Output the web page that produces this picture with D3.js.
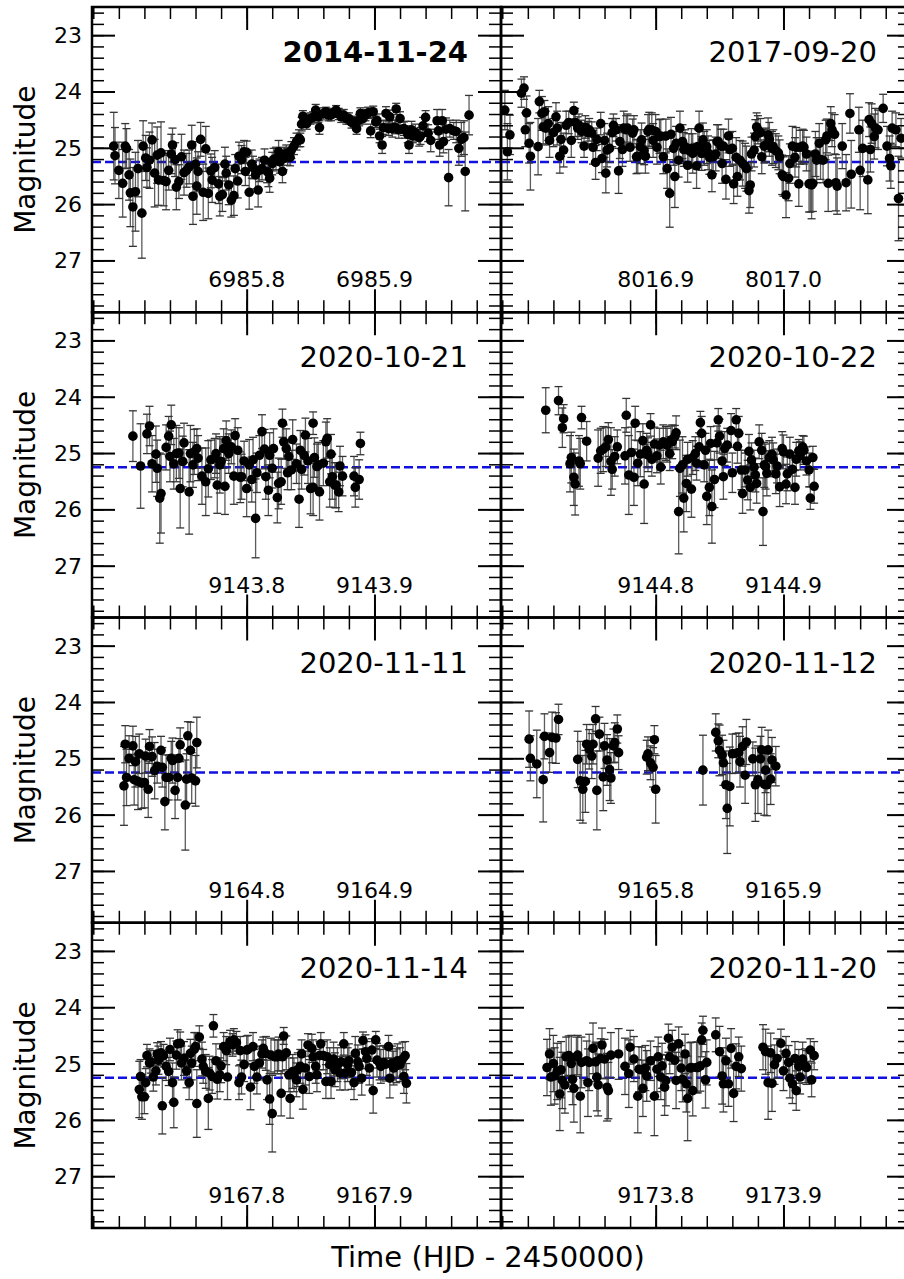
<!DOCTYPE html>
<html lang="en">
<head>
<meta charset="UTF-8">
<title>Light curves by night</title>
<script src="https://d3js.org/d3.v7.min.js"></script>
<style>
  body { margin: 0; background: #fff; }
  svg { display: block; font-family: "DejaVu Sans", sans-serif; }
</style>
</head>
<body>
<svg id="chart" width="904" height="1279"></svg>
<script>
// one panel per night, row by row
const nights = ["2014-11-24", "2017-09-20", "2020-10-21", "2020-10-22",
                "2020-11-11", "2020-11-12", "2020-11-14", "2020-11-20"];
// first labelled time tick of each panel (HJD - 2450000)
const tickStarts = [6985.8, 8016.9, 9143.8, 9144.8, 9164.8, 9165.8, 9167.8, 9173.8];
const yTicks = [23, 24, 25, 26, 27];
const meanMag = 25.25;

// [time, magnitude, error]
const lc20141124 = [[6985.696,24.97,0.6],[6985.697,25.14,0.5],[6985.700,25.40,0.5],[6985.703,25.63,0.6],[6985.705,24.97,0.4],[6985.706,25.01,0.35],[6985.708,25.48,0.45],[6985.709,25.80,0.6],[6985.711,26.05,0.7],[6985.713,25.78,0.7],[6985.715,25.37,0.5],[6985.718,26.16,0.8],[6985.719,24.97,0.45],[6985.721,25.18,0.4],[6985.722,25.35,0.35],[6985.724,25.22,0.5],[6985.726,24.86,0.3],[6985.728,25.45,0.6],[6985.730,25.13,0.5],[6985.731,25.57,0.45],[6985.733,25.09,0.55],[6985.735,25.58,0.45],[6985.737,25.60,0.5],[6985.739,25.40,0.35],[6985.741,25.11,0.35],[6985.742,24.95,0.3],[6985.744,25.21,0.3],[6985.745,25.70,0.4],[6985.747,25.60,0.3],[6985.749,25.16,0.4],[6985.751,25.44,0.4],[6985.753,25.40,0.3],[6985.755,25.34,0.3],[6985.757,24.95,0.35],[6985.758,25.86,0.5],[6985.760,25.29,0.4],[6985.761,25.68,0.5],[6985.762,25.42,0.35],[6985.764,24.85,0.3],[6985.766,25.79,0.5],[6985.768,25.02,0.4],[6985.770,25.81,0.45],[6985.772,25.41,0.3],[6985.773,25.57,0.4],[6985.775,25.35,0.3],[6985.778,25.64,0.35],[6985.779,25.86,0.35],[6985.781,25.83,0.3],[6985.783,25.29,0.3],[6985.784,25.45,0.3],[6985.786,25.66,0.35],[6985.788,25.93,0.3],[6985.790,25.85,0.35],[6985.791,25.37,0.25],[6985.793,25.59,0.3],[6985.794,25.15,0.25],[6985.796,25.21,0.25],[6985.798,25.07,0.2],[6985.799,25.42,0.25],[6985.800,25.08,0.2],[6985.802,25.79,0.3],[6985.804,25.29,0.25],[6985.805,25.35,0.2],[6985.807,25.48,0.25],[6985.809,25.75,0.3],[6985.810,25.40,0.2],[6985.812,25.37,0.2],[6985.814,25.22,0.2],[6985.816,25.42,0.2],[6985.817,25.44,0.25],[6985.818,25.54,0.25],[6985.820,25.28,0.2],[6985.821,25.21,0.2],[6985.823,25.19,0.2],[6985.825,25.07,0.2],[6985.826,25.25,0.2],[6985.828,25.42,0.2],[6985.829,25.19,0.2],[6985.831,25.10,0.15],[6985.832,25.16,0.15],[6985.834,25.17,0.15],[6985.835,25.04,0.15],[6985.837,24.97,0.15],[6985.839,24.89,0.15],[6985.841,24.83,0.15],[6985.842,24.86,0.12],[6985.843,24.58,0.12],[6985.844,24.44,0.1],[6985.846,24.50,0.1],[6985.847,24.57,0.1],[6985.850,24.48,0.1],[6985.852,24.46,0.1],[6985.854,24.33,0.1],[6985.856,24.45,0.1],[6985.857,24.64,0.12],[6985.860,24.39,0.1],[6985.862,24.36,0.08],[6985.864,24.42,0.1],[6985.866,24.42,0.1],[6985.868,24.38,0.08],[6985.870,24.33,0.08],[6985.872,24.40,0.1],[6985.874,24.45,0.1],[6985.876,24.42,0.1],[6985.878,24.48,0.1],[6985.880,24.48,0.1],[6985.882,24.55,0.1],[6985.884,24.54,0.1],[6985.886,24.66,0.1],[6985.888,24.51,0.1],[6985.889,24.39,0.1],[6985.891,24.48,0.1],[6985.893,24.42,0.1],[6985.895,24.38,0.1],[6985.897,24.70,0.12],[6985.899,24.36,0.1],[6985.901,24.54,0.1],[6985.902,24.52,0.12],[6985.904,24.79,0.12],[6985.906,24.95,0.15],[6985.907,24.64,0.12],[6985.909,24.39,0.12],[6985.911,24.66,0.12],[6985.912,24.45,0.12],[6985.914,24.66,0.15],[6985.916,24.63,0.12],[6985.917,24.31,0.1],[6985.919,24.68,0.15],[6985.920,24.48,0.12],[6985.923,24.66,0.12],[6985.924,24.68,0.15],[6985.926,24.76,0.15],[6985.927,24.95,0.15],[6985.929,24.68,0.15],[6985.930,24.79,0.12],[6985.932,24.73,0.15],[6985.935,24.82,0.15],[6985.936,24.79,0.15],[6985.938,24.61,0.15],[6985.940,24.46,0.12],[6985.942,24.74,0.15],[6985.944,24.87,0.2],[6985.949,24.52,0.2],[6985.950,24.70,0.15],[6985.951,24.95,0.2],[6985.953,24.52,0.2],[6985.954,24.89,0.2],[6985.956,24.67,0.2],[6985.958,25.53,0.5],[6985.959,24.66,0.15],[6985.962,24.70,0.15],[6985.964,24.71,0.2],[6985.966,25.01,0.3],[6985.968,24.85,0.3],[6985.970,24.82,0.3],[6985.971,25.42,0.7],[6985.974,24.42,0.35]];

const lc20170920 = [[8016.782,24.33,0.35],[8016.784,25.07,0.5],[8016.786,24.77,0.35],[8016.795,24.03,0.25],[8016.797,23.94,0.2],[8016.798,24.68,0.3],[8016.799,24.38,0.3],[8016.801,24.92,0.35],[8016.802,25.15,0.6],[8016.808,24.98,0.5],[8016.809,24.18,0.2],[8016.811,24.39,0.3],[8016.812,24.63,0.3],[8016.813,24.36,0.2],[8016.814,24.65,0.3],[8016.816,24.57,0.3],[8016.817,24.87,0.3],[8016.820,24.73,0.25],[8016.822,24.45,0.25],[8016.823,24.65,0.3],[8016.825,25.15,0.3],[8016.826,24.85,0.3],[8016.828,25.04,0.3],[8016.830,24.60,0.25],[8016.832,24.55,0.2],[8016.834,24.87,0.3],[8016.836,24.34,0.15],[8016.837,24.55,0.25],[8016.839,24.65,0.2],[8016.840,24.60,0.2],[8016.842,24.71,0.2],[8016.844,24.97,0.2],[8016.845,24.63,0.2],[8016.847,24.73,0.2],[8016.848,24.68,0.2],[8016.850,24.74,0.2],[8016.851,24.99,0.3],[8016.853,25.26,0.3],[8016.854,24.85,0.2],[8016.857,24.57,0.2],[8016.858,25.19,0.25],[8016.860,24.87,0.3],[8016.861,25.45,0.35],[8016.862,25.04,0.3],[8016.864,25.01,0.25],[8016.866,24.73,0.25],[8016.867,24.60,0.2],[8016.869,24.68,0.2],[8016.871,25.41,0.4],[8016.872,24.89,0.3],[8016.874,25.03,0.3],[8016.875,24.65,0.3],[8016.877,24.68,0.25],[8016.878,24.65,0.25],[8016.880,24.99,0.25],[8016.882,24.74,0.25],[8016.883,24.68,0.25],[8016.885,25.16,0.3],[8016.886,25.15,0.3],[8016.888,24.98,0.3],[8016.889,24.86,0.3],[8016.891,25.05,0.25],[8016.892,25.15,0.3],[8016.894,24.71,0.3],[8016.895,24.67,0.3],[8016.897,24.68,0.3],[8016.898,24.87,0.3],[8016.900,24.71,0.3],[8016.901,24.99,0.3],[8016.903,24.80,0.3],[8016.904,24.79,0.3],[8016.906,25.16,0.3],[8016.908,24.79,0.3],[8016.909,25.37,0.35],[8016.911,25.81,0.6],[8016.912,24.76,0.3],[8016.914,25.01,0.3],[8016.915,25.51,0.55],[8016.916,24.92,0.3],[8016.918,25.22,0.3],[8016.919,24.65,0.3],[8016.921,24.89,0.3],[8016.922,25.03,0.3],[8016.923,24.98,0.3],[8016.925,25.31,0.3],[8016.926,25.05,0.3],[8016.928,25.01,0.35],[8016.929,25.10,0.35],[8016.932,25.32,0.4],[8016.933,24.98,0.3],[8016.934,24.65,0.3],[8016.936,25.10,0.3],[8016.937,24.86,0.3],[8016.938,25.01,0.3],[8016.940,24.98,0.3],[8016.941,25.09,0.3],[8016.942,25.17,0.3],[8016.944,25.48,0.3],[8016.945,25.16,0.3],[8016.947,25.11,0.3],[8016.948,24.89,0.3],[8016.949,24.89,0.3],[8016.951,24.97,0.3],[8016.952,25.28,0.35],[8016.953,24.97,0.3],[8016.955,25.56,0.35],[8016.957,24.79,0.3],[8016.958,25.03,0.3],[8016.960,25.01,0.3],[8016.961,25.64,0.35],[8016.963,25.17,0.35],[8016.964,25.51,0.35],[8016.966,25.22,0.35],[8016.968,25.28,0.4],[8016.970,25.32,0.4],[8016.971,25.37,0.4],[8016.973,25.76,0.4],[8016.974,25.66,0.4],[8016.975,25.11,0.3],[8016.977,25.04,0.3],[8016.978,24.80,0.3],[8016.979,24.63,0.25],[8016.980,24.68,0.25],[8016.982,24.73,0.25],[8016.983,25.16,0.3],[8016.985,24.97,0.3],[8016.986,24.95,0.3],[8016.988,24.77,0.3],[8016.989,24.85,0.3],[8016.991,25.01,0.3],[8016.992,24.98,0.3],[8016.994,25.05,0.3],[8016.996,25.09,0.3],[8016.997,25.16,0.3],[8016.999,25.48,0.35],[8017.000,25.51,0.35],[8017.002,25.84,0.4],[8017.004,25.54,0.4],[8017.005,25.28,0.35],[8017.007,24.97,0.35],[8017.009,25.17,0.35],[8017.010,24.99,0.35],[8017.012,25.64,0.4],[8017.013,24.99,0.3],[8017.015,24.97,0.3],[8017.016,24.99,0.3],[8017.018,25.11,0.3],[8017.020,25.64,0.5],[8017.021,25.64,0.5],[8017.022,25.66,0.6],[8017.023,25.63,0.5],[8017.025,25.11,0.4],[8017.026,25.22,0.4],[8017.028,24.92,0.35],[8017.029,25.21,0.35],[8017.031,25.22,0.4],[8017.033,24.86,0.35],[8017.034,24.79,0.3],[8017.035,25.63,0.5],[8017.037,24.57,0.3],[8017.038,24.68,0.3],[8017.040,24.76,0.35],[8017.041,25.62,0.5],[8017.042,25.68,0.5],[8017.046,24.97,0.4],[8017.049,25.62,0.5],[8017.052,24.39,0.35],[8017.053,25.47,0.6],[8017.059,24.68,0.4],[8017.060,25.40,0.7],[8017.062,25.01,0.5],[8017.066,25.57,0.6],[8017.067,24.50,0.3],[8017.068,25.03,0.4],[8017.069,24.57,0.35],[8017.071,24.80,0.4],[8017.072,24.65,0.35],[8017.074,24.68,0.35],[8017.078,24.30,0.25],[8017.081,24.97,0.35],[8017.083,25.19,0.4],[8017.084,25.32,0.4],[8017.085,24.65,0.3],[8017.088,24.68,0.3],[8017.090,25.90,0.75],[8017.092,24.83,0.35]];

const lc20201021 = [[9143.711,24.70,0.45],[9143.717,25.23,0.75],[9143.722,24.66,0.35],[9143.724,24.52,0.35],[9143.726,25.19,0.5],[9143.729,25.02,0.5],[9143.730,25.27,0.5],[9143.732,25.80,0.8],[9143.733,25.72,0.7],[9143.737,24.90,0.4],[9143.739,24.70,0.35],[9143.740,25.06,0.45],[9143.741,24.50,0.35],[9143.743,25.19,0.45],[9143.745,25.01,0.5],[9143.747,25.00,0.45],[9143.748,25.63,0.7],[9143.750,25.15,0.45],[9143.751,24.82,0.35],[9143.755,25.69,0.75],[9143.756,25.01,0.5],[9143.758,25.21,0.4],[9143.759,24.98,0.4],[9143.761,24.92,0.35],[9143.762,25.09,0.4],[9143.765,25.41,0.5],[9143.768,25.51,0.6],[9143.770,25.28,0.5],[9143.772,25.12,0.35],[9143.775,25.09,0.35],[9143.776,25.01,0.35],[9143.777,25.57,0.5],[9143.779,25.21,0.5],[9143.780,25.15,0.4],[9143.782,24.92,0.35],[9143.783,25.59,0.5],[9143.784,24.78,0.35],[9143.786,25.01,0.35],[9143.788,24.89,0.3],[9143.790,25.41,0.5],[9143.791,24.69,0.3],[9143.793,24.95,0.4],[9143.795,25.43,0.45],[9143.796,25.42,0.4],[9143.798,25.14,0.35],[9143.800,25.63,0.5],[9143.802,25.21,0.45],[9143.804,25.47,0.4],[9143.805,25.12,0.4],[9143.807,26.16,0.7],[9143.808,25.35,0.35],[9143.810,25.04,0.35],[9143.812,24.62,0.3],[9143.814,24.93,0.35],[9143.815,25.42,0.4],[9143.817,25.66,0.45],[9143.818,25.04,0.4],[9143.820,25.27,0.35],[9143.821,24.92,0.35],[9143.824,25.79,0.45],[9143.825,25.54,0.45],[9143.827,25.51,0.4],[9143.828,24.47,0.25],[9143.829,24.80,0.3],[9143.831,24.92,0.35],[9143.832,25.35,0.3],[9143.833,25.06,0.3],[9143.835,25.30,0.35],[9143.836,24.76,0.35],[9143.839,25.19,0.35],[9143.841,25.82,0.5],[9143.842,24.95,0.35],[9143.843,25.29,0.35],[9143.845,25.04,0.35],[9143.846,24.68,0.3],[9143.848,25.14,0.4],[9143.850,25.63,0.45],[9143.852,24.47,0.2],[9143.852,25.61,0.5],[9143.853,25.08,0.35],[9143.855,25.24,0.4],[9143.856,25.21,0.4],[9143.857,25.69,0.5],[9143.860,25.18,0.4],[9143.862,24.80,0.35],[9143.863,24.74,0.35],[9143.865,25.51,0.45],[9143.866,25.02,0.35],[9143.867,25.42,0.4],[9143.869,25.57,0.4],[9143.870,25.57,0.4],[9143.872,25.69,0.35],[9143.873,25.23,0.35],[9143.875,25.41,0.35],[9143.884,25.41,0.35],[9143.885,25.61,0.35],[9143.888,25.47,0.35],[9143.889,24.83,0.2]];

const lc20201022 = [[9144.714,24.24,0.4],[9144.724,24.07,0.25],[9144.727,24.55,0.35],[9144.728,24.39,0.25],[9144.733,25.19,0.5],[9144.734,25.08,0.45],[9144.736,25.43,0.5],[9144.737,25.55,0.55],[9144.740,25.14,0.45],[9144.741,25.19,0.45],[9144.742,24.37,0.2],[9144.746,24.79,0.35],[9144.755,25.09,0.5],[9144.757,24.96,0.4],[9144.759,24.93,0.4],[9144.761,24.89,0.35],[9144.763,24.76,0.3],[9144.765,25.15,0.6],[9144.766,25.29,0.35],[9144.768,25.06,0.35],[9144.770,24.89,0.3],[9144.776,25.05,0.5],[9144.777,24.33,0.3],[9144.779,25.39,0.7],[9144.781,24.99,0.45],[9144.783,25.43,0.5],[9144.784,24.47,0.3],[9144.786,25.18,0.4],[9144.788,25.02,0.4],[9144.790,24.78,0.3],[9144.791,25.55,0.7],[9144.793,24.95,0.3],[9144.794,25.03,0.3],[9144.796,24.50,0.2],[9144.797,25.11,0.3],[9144.799,24.84,0.3],[9144.801,25.05,0.3],[9144.803,24.86,0.3],[9144.804,25.25,0.3],[9144.806,24.80,0.3],[9144.808,24.83,0.3],[9144.809,24.86,0.3],[9144.811,25.01,0.3],[9144.812,24.77,0.25],[9144.813,24.80,0.3],[9144.815,24.71,0.2],[9144.816,24.64,0.3],[9144.818,26.04,0.75],[9144.819,25.27,0.5],[9144.821,25.21,0.5],[9144.822,25.80,0.6],[9144.824,25.54,0.5],[9144.825,25.11,0.3],[9144.828,25.64,0.5],[9144.829,25.08,0.3],[9144.831,25.01,0.3],[9144.832,25.18,0.3],[9144.834,24.89,0.25],[9144.835,24.46,0.2],[9144.836,24.65,0.3],[9144.838,25.21,0.3],[9144.839,24.95,0.3],[9144.840,25.77,0.5],[9144.842,25.61,0.5],[9144.843,24.83,0.3],[9144.844,25.95,0.65],[9144.846,25.47,0.5],[9144.848,24.82,0.3],[9144.849,24.41,0.2],[9144.850,24.70,0.3],[9144.852,25.14,0.3],[9144.853,25.42,0.4],[9144.854,24.92,0.3],[9144.856,24.86,0.3],[9144.859,24.60,0.3],[9144.860,25.35,0.35],[9144.863,24.41,0.2],[9144.864,24.88,0.3],[9144.865,24.65,0.3],[9144.867,25.30,0.35],[9144.868,25.72,0.35],[9144.870,25.30,0.3],[9144.872,25.48,0.35],[9144.873,24.97,0.3],[9144.874,25.61,0.4],[9144.875,25.12,0.3],[9144.877,25.25,0.3],[9144.878,25.39,0.3],[9144.879,25.54,0.35],[9144.881,24.80,0.3],[9144.883,24.95,0.3],[9144.884,26.04,0.6],[9144.885,25.21,0.4],[9144.886,25.24,0.4],[9144.887,25.36,0.4],[9144.889,25.08,0.3],[9144.891,25.02,0.3],[9144.892,25.12,0.3],[9144.894,25.37,0.35],[9144.895,25.23,0.3],[9144.897,25.60,0.35],[9144.899,24.92,0.3],[9144.900,24.98,0.3],[9144.902,25.55,0.35],[9144.903,25.37,0.3],[9144.905,25.02,0.3],[9144.907,25.29,0.3],[9144.909,25.61,0.3],[9144.910,25.11,0.3],[9144.912,24.96,0.2],[9144.913,25.05,0.25],[9144.915,24.89,0.2],[9144.916,24.95,0.25],[9144.918,25.14,0.25],[9144.920,25.30,0.3],[9144.921,25.80,0.2],[9144.923,25.08,0.2],[9144.924,25.59,0.3]];

const lc20201111 = [[9164.704,25.49,0.7],[9164.705,24.75,0.33],[9164.706,25.34,0.5],[9164.708,25.00,0.4],[9164.711,24.78,0.35],[9164.712,25.38,0.45],[9164.713,25.06,0.45],[9164.715,25.41,0.5],[9164.716,24.92,0.35],[9164.718,25.44,0.45],[9164.720,25.43,0.45],[9164.721,24.96,0.3],[9164.723,25.55,0.5],[9164.724,24.79,0.3],[9164.726,24.97,0.35],[9164.728,25.22,0.5],[9164.730,25.14,0.3],[9164.733,24.86,0.25],[9164.734,25.16,0.35],[9164.736,25.77,0.5],[9164.737,25.34,0.4],[9164.739,25.34,0.4],[9164.741,25.00,0.3],[9164.742,25.04,0.4],[9164.744,25.57,0.5],[9164.746,25.34,0.4],[9164.747,25.00,0.35],[9164.748,24.76,0.3],[9164.752,25.83,0.8],[9164.753,25.37,0.45],[9164.754,24.60,0.25],[9164.756,24.86,0.5],[9164.757,25.35,0.45],[9164.760,25.40,0.45],[9164.761,24.72,0.45]];

const lc20201112 = [[9165.701,24.66,0.5],[9165.702,25.00,0.4],[9165.707,25.10,0.6],[9165.712,25.38,0.75],[9165.713,24.61,0.4],[9165.717,24.90,0.35],[9165.719,24.63,0.45],[9165.722,24.64,0.45],[9165.724,24.31,0.27],[9165.739,25.02,0.5],[9165.741,25.40,0.7],[9165.743,25.55,0.6],[9165.745,25.41,0.55],[9165.746,24.75,0.35],[9165.748,24.84,0.35],[9165.750,24.96,0.4],[9165.751,24.75,0.35],[9165.753,24.30,0.22],[9165.754,25.57,0.7],[9165.756,24.57,0.3],[9165.759,25.33,0.6],[9165.760,24.78,0.4],[9165.762,25.03,0.45],[9165.764,25.20,0.55],[9165.765,25.35,0.45],[9165.767,24.78,0.3],[9165.768,24.72,0.35],[9165.770,24.48,0.25],[9165.771,24.90,0.3],[9165.793,24.98,0.3],[9165.794,24.92,0.3],[9165.796,25.08,0.3],[9165.798,25.16,0.35],[9165.799,24.67,0.25],[9165.800,25.55,0.6],[9165.837,25.21,0.62],[9165.847,24.54,0.33],[9165.849,24.69,0.3],[9165.850,24.86,0.45],[9165.852,24.94,0.35],[9165.853,25.08,0.4],[9165.855,25.47,0.6],[9165.856,25.89,0.8],[9165.858,25.50,0.7],[9165.860,24.92,0.35],[9165.863,24.91,0.35],[9165.865,24.90,0.35],[9165.866,25.06,0.45],[9165.868,24.79,0.35],[9165.870,25.30,0.5],[9165.871,24.71,0.4],[9165.876,25.01,0.3],[9165.878,25.47,0.65],[9165.880,25.38,0.6],[9165.882,25.01,0.4],[9165.883,24.85,0.4],[9165.885,25.46,0.55],[9165.886,25.21,0.4],[9165.887,25.47,0.55],[9165.888,24.85,0.35],[9165.890,25.37,0.45],[9165.891,25.03,0.4],[9165.894,25.14,0.35]];

const lc20201114 = [[9167.716,25.46,0.5],[9167.717,25.23,0.3],[9167.718,25.59,0.4],[9167.720,25.59,0.3],[9167.721,25.34,0.25],[9167.722,24.86,0.2],[9167.724,24.99,0.25],[9167.725,24.97,0.2],[9167.727,25.24,0.25],[9167.729,25.13,0.25],[9167.730,24.83,0.2],[9167.731,24.94,0.25],[9167.733,24.81,0.2],[9167.734,25.75,0.5],[9167.735,24.86,0.2],[9167.737,25.05,0.25],[9167.739,25.14,0.25],[9167.740,24.75,0.2],[9167.742,25.34,0.35],[9167.743,25.69,0.45],[9167.745,24.85,0.25],[9167.746,24.65,0.25],[9167.748,24.64,0.2],[9167.749,24.99,0.3],[9167.751,24.91,0.3],[9167.753,25.13,0.3],[9167.755,25.34,0.3],[9167.756,24.82,0.25],[9167.757,24.99,0.3],[9167.759,24.75,0.3],[9167.760,24.70,0.25],[9167.761,25.71,0.6],[9167.763,24.53,0.2],[9167.765,24.92,0.3],[9167.766,25.05,0.3],[9167.768,25.14,0.3],[9167.770,25.62,0.55],[9167.771,25.17,0.3],[9167.773,25.23,0.3],[9167.774,24.33,0.2],[9167.776,24.95,0.3],[9167.777,25.28,0.35],[9167.779,25.20,0.3],[9167.780,25.04,0.3],[9167.782,24.70,0.25],[9167.784,24.77,0.25],[9167.785,25.24,0.4],[9167.787,24.61,0.2],[9167.789,24.67,0.2],[9167.790,24.58,0.2],[9167.792,24.63,0.2],[9167.794,25.34,0.3],[9167.795,24.77,0.25],[9167.796,25.24,0.3],[9167.798,25.02,0.3],[9167.800,24.76,0.25],[9167.801,24.75,0.25],[9167.803,25.42,0.4],[9167.805,24.70,0.25],[9167.806,25.05,0.3],[9167.808,25.24,0.3],[9167.810,24.99,0.3],[9167.812,24.83,0.25],[9167.813,24.73,0.2],[9167.815,24.82,0.3],[9167.816,25.29,0.35],[9167.818,25.63,0.45],[9167.819,24.85,0.3],[9167.820,25.89,0.68],[9167.822,24.88,0.3],[9167.824,24.88,0.3],[9167.825,24.83,0.3],[9167.827,25.53,0.4],[9167.828,24.88,0.3],[9167.829,24.51,0.15],[9167.831,24.81,0.3],[9167.833,25.20,0.3],[9167.834,25.62,0.35],[9167.836,25.14,0.3],[9167.837,25.20,0.3],[9167.839,25.29,0.3],[9167.840,25.11,0.3],[9167.842,25.05,0.3],[9167.843,24.83,0.25],[9167.844,25.46,0.35],[9167.846,25.08,0.3],[9167.848,24.67,0.2],[9167.849,25.23,0.3],[9167.851,24.73,0.25],[9167.852,24.88,0.3],[9167.854,25.05,0.3],[9167.855,25.20,0.3],[9167.857,24.86,0.25],[9167.858,24.65,0.2],[9167.860,24.86,0.25],[9167.862,25.32,0.3],[9167.863,24.88,0.3],[9167.865,25.02,0.3],[9167.866,25.32,0.3],[9167.868,24.92,0.3],[9167.869,25.11,0.3],[9167.871,25.02,0.3],[9167.873,25.17,0.3],[9167.874,24.97,0.3],[9167.876,24.65,0.2],[9167.877,25.17,0.3],[9167.879,25.02,0.3],[9167.880,24.95,0.3],[9167.882,25.16,0.3],[9167.884,25.34,0.3],[9167.885,24.82,0.3],[9167.887,24.97,0.3],[9167.888,25.05,0.3],[9167.890,25.26,0.3],[9167.891,24.59,0.15],[9167.893,24.79,0.3],[9167.894,24.91,0.3],[9167.896,25.08,0.3],[9167.898,24.76,0.2],[9167.899,25.48,0.4],[9167.901,24.58,0.15],[9167.902,24.94,0.3],[9167.904,24.99,0.3],[9167.905,25.05,0.3],[9167.907,24.98,0.3],[9167.909,25.01,0.3],[9167.911,24.70,0.2],[9167.912,25.26,0.35],[9167.914,24.99,0.3],[9167.915,25.08,0.3],[9167.917,25.04,0.3],[9167.918,24.95,0.3],[9167.920,25.02,0.3],[9167.922,24.92,0.3],[9167.923,25.23,0.3],[9167.924,24.86,0.25],[9167.925,25.35,0.35]];

const lc20201120 = [[9173.715,25.07,0.5],[9173.717,24.83,0.45],[9173.718,25.24,0.5],[9173.720,25.00,0.5],[9173.721,25.22,0.5],[9173.723,25.14,0.5],[9173.725,25.54,0.65],[9173.726,25.11,0.5],[9173.727,25.30,0.5],[9173.729,25.38,0.5],[9173.730,24.88,0.35],[9173.732,24.86,0.35],[9173.734,25.00,0.5],[9173.735,25.28,0.45],[9173.736,25.44,0.6],[9173.738,24.88,0.35],[9173.739,24.85,0.35],[9173.741,25.58,0.65],[9173.742,24.98,0.45],[9173.746,24.95,0.35],[9173.747,25.34,0.6],[9173.748,24.98,0.5],[9173.751,24.73,0.45],[9173.753,24.97,0.35],[9173.754,25.24,0.6],[9173.755,25.38,0.55],[9173.757,24.91,0.35],[9173.758,24.67,0.3],[9173.760,24.92,0.35],[9173.762,25.42,0.6],[9173.763,25.48,0.5],[9173.765,24.85,0.4],[9173.771,24.83,0.45],[9173.776,25.05,0.5],[9173.779,25.18,0.6],[9173.780,24.71,0.3],[9173.783,24.92,0.4],[9173.786,25.58,0.65],[9173.787,25.10,0.4],[9173.789,25.11,0.4],[9173.790,25.44,0.5],[9173.792,25.08,0.4],[9173.793,25.22,0.45],[9173.796,24.95,0.35],[9173.799,25.58,0.7],[9173.801,25.10,0.4],[9173.802,24.88,0.35],[9173.804,25.24,0.4],[9173.805,25.04,0.4],[9173.807,25.42,0.5],[9173.808,25.30,0.45],[9173.810,24.55,0.25],[9173.811,24.88,0.3],[9173.813,24.71,0.3],[9173.815,24.94,0.35],[9173.816,25.30,0.5],[9173.818,24.65,0.3],[9173.820,25.08,0.4],[9173.821,25.28,0.4],[9173.823,24.83,0.35],[9173.824,25.36,0.5],[9173.825,25.62,0.75],[9173.827,25.08,0.45],[9173.828,25.07,0.45],[9173.829,25.48,0.45],[9173.832,25.07,0.45],[9173.833,25.07,0.45],[9173.835,25.04,0.45],[9173.836,24.58,0.3],[9173.837,24.41,0.25],[9173.839,25.29,0.5],[9173.840,24.98,0.4],[9173.847,24.49,0.3],[9173.850,24.79,0.45],[9173.852,25.22,0.5],[9173.853,25.36,0.5],[9173.855,24.95,0.4],[9173.857,25.36,0.4],[9173.859,24.73,0.35],[9173.861,25.53,0.5],[9173.863,25.05,0.4],[9173.865,24.88,0.35],[9173.867,25.09,0.4],[9173.884,24.71,0.4],[9173.886,24.79,0.4],[9173.888,25.34,0.65],[9173.890,24.81,0.35],[9173.891,25.35,0.5],[9173.893,25.02,0.35],[9173.895,24.91,0.35],[9173.898,24.64,0.25],[9173.900,25.13,0.35],[9173.902,24.82,0.3],[9173.904,24.98,0.3],[9173.905,25.26,0.35],[9173.907,25.36,0.35],[9173.909,24.91,0.3],[9173.910,25.48,0.35],[9173.912,25.05,0.3],[9173.913,25.24,0.3],[9173.915,24.92,0.3],[9173.917,25.04,0.3],[9173.918,25.07,0.3],[9173.921,24.76,0.2],[9173.922,25.29,0.3],[9173.924,24.86,0.25]];

const curves = [lc20141124, lc20170920, lc20201021, lc20201022,
                lc20201111, lc20201112, lc20201114, lc20201120];

const svg = d3.select("#chart");
const marginLeft = 92, marginTop = 7, pw = 409, ph = 305.25;

function inwardTicks(sel, axis, values, size, width) {
  sel.call(axis.tickValues(values).tickSize(-size).tickFormat(""));
  sel.select(".domain").remove();
  sel.selectAll("line").attr("stroke", "#000").attr("stroke-width", width);
  sel.selectAll("text").remove();
}

nights.forEach((night, i) => {
  const col = i % 2, row = Math.floor(i / 2);
  const T = tickStarts[i];
  const g = svg.append("g")
    .attr("transform", `translate(${marginLeft + col * pw},${marginTop + row * ph})`);

  const x = d3.scaleLinear().domain([T - 0.121, T + 0.199]).range([0, pw]);
  const y = d3.scaleLinear().domain([22.5, 27.92]).range([0, ph]);

  const xMajor = [T, T + 0.1];
  const xMinor = d3.range(-6, 10).map(k => T + k * 0.02);
  const yMinor = d3.range(113, 140).map(k => k / 5);

  // mean magnitude
  g.append("line")
    .attr("x1", 0).attr("x2", pw)
    .attr("y1", y(meanMag)).attr("y2", y(meanMag))
    .attr("stroke", "#1010e0").attr("stroke-width", 2.5)
    .attr("stroke-dasharray", "9,4");

  const pts = curves[i];
  const eb = g.append("g").attr("stroke", "#333").attr("stroke-width", 1.3);
  eb.selectAll(".bar").data(pts).join("line")
    .attr("class", "bar")
    .attr("x1", d => x(d[0])).attr("x2", d => x(d[0]))
    .attr("y1", d => y(d[1] - d[2])).attr("y2", d => y(d[1] + d[2]))
    .attr("stroke-opacity", 0.8);
  eb.selectAll(".capTop").data(pts).join("line")
    .attr("class", "capTop")
    .attr("x1", d => x(d[0]) - 4).attr("x2", d => x(d[0]) + 4)
    .attr("y1", d => y(d[1] - d[2])).attr("y2", d => y(d[1] - d[2]));
  eb.selectAll(".capBot").data(pts).join("line")
    .attr("class", "capBot")
    .attr("x1", d => x(d[0]) - 4).attr("x2", d => x(d[0]) + 4)
    .attr("y1", d => y(d[1] + d[2])).attr("y2", d => y(d[1] + d[2]));

  g.append("g").selectAll("circle").data(pts).join("circle")
    .attr("cx", d => x(d[0])).attr("cy", d => y(d[1]))
    .attr("r", 4.8).attr("fill", "#000");

  // ticks on all four sides, pointing in
  const sides = [
    [() => d3.axisBottom(x), `translate(0,${ph})`, xMinor, xMajor],
    [() => d3.axisTop(x), "translate(0,0)", xMinor, xMajor],
    [() => d3.axisLeft(y), "translate(0,0)", yMinor, yTicks],
    [() => d3.axisRight(y), `translate(${pw},0)`, yMinor, yTicks]
  ];
  sides.forEach(([makeAxis, tr, minor, major]) => {
    g.append("g").attr("transform", tr)
      .call(s => inwardTicks(s, makeAxis(), minor, 12, 1.5));
    g.append("g").attr("transform", tr)
      .call(s => inwardTicks(s, makeAxis(), major, 23, 2));
  });

  g.append("rect")
    .attr("width", pw).attr("height", ph)
    .attr("fill", "none").attr("stroke", "#000").attr("stroke-width", 2.5);

  // time labels sit inside the panel
  g.selectAll(".xlab").data(xMajor).join("text")
    .attr("class", "xlab")
    .attr("x", d => x(d)).attr("y", ph - 25)
    .attr("text-anchor", "middle").attr("font-size", 22)
    .text(d3.format(".1f"));

  g.append("text")
    .attr("x", pw - 33).attr("y", 55)
    .attr("text-anchor", "end").attr("font-size", 29)
    .attr("font-weight", i === 0 ? "bold" : "normal")
    .text(night);

  if (col === 0) {
    g.selectAll(".ylab").data(yTicks).join("text")
      .attr("class", "ylab")
      .attr("x", -10).attr("y", d => y(d) + 8)
      .attr("text-anchor", "end").attr("font-size", 22)
      .text(d => d);
    g.append("text")
      .attr("transform", `translate(${35 - marginLeft},${ph / 2}) rotate(-90)`)
      .attr("text-anchor", "middle").attr("font-size", 28)
      .text("Magnitude");
  }
});

svg.append("text")
  .attr("x", 488).attr("y", 1267)
  .attr("text-anchor", "middle").attr("font-size", 29)
  .text("Time (HJD - 2450000)");
</script>
</body>
</html>
